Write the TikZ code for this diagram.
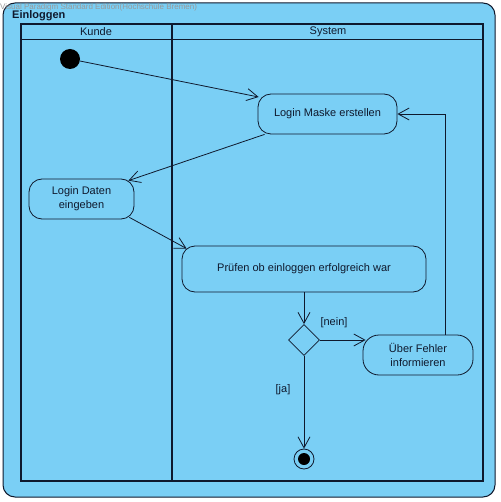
\documentclass[tikz,border=0pt]{standalone}
\usepackage{fontspec}
\setmainfont{Liberation Sans}
\usetikzlibrary{arrows.meta,shapes.geometric,calc}
\definecolor{vpblue}{RGB}{122,207,245}
\definecolor{vpline}{RGB}{15,25,45}
\begin{document}
\begin{tikzpicture}[x=1pt,y=-1pt,
  every node/.style={font=\fontsize{11}{14}\selectfont, text=vpline},
  action/.style={draw=vpline, line width=0.8pt, rounded corners=13pt, fill=vpblue, align=center, inner sep=0pt},
  flow/.style={draw=vpline, line width=0.8pt, -{Straight Barb[length=11pt,width=12pt,line width=0.8pt]}},
  lane/.style={draw=vpline, line width=1.8pt},
  guard/.style={font=\fontsize{11}{12}\selectfont}]
\useasboundingbox (0,0) rectangle (500,502);
% outer frame
\draw[fill=vpblue, draw=vpline, line width=1pt, rounded corners=12pt] (3,3) rectangle (495,497);
\node[anchor=west, text=gray!80, font=\fontsize{8}{9}\selectfont, inner sep=0pt] (wm) at (0,7) {Visual Paradigm Standard Edition(Hochschule Bremen)};
\node[anchor=west, font=\fontsize{11}{13}\bfseries, inner sep=0pt] (title) at (12,16) {Einloggen};
% swimlanes
\draw[lane] (21,24) rectangle (483,481);
\draw[lane] (21,39.5) -- (483,39.5);
\draw[lane] (172,24) -- (172,481);
\node (kunde) at (96,31.5) {Kunde};
\node (system) at (328,31.5) {System};
% nodes
\node[circle, fill=black, minimum size=20pt, inner sep=0pt] (init) at (70,59) {};
\node[action, minimum width=139pt, minimum height=40pt] (maske) at (327.5,114) {Login Maske erstellen};
\node[action, minimum width=105pt, minimum height=40pt] (daten) at (81.5,199) {Login Daten\\eingeben};
\node[action, minimum width=244pt, minimum height=46pt] (pruefen) at (304,269) {Prüfen ob einloggen erfolgreich war};
\node[diamond, draw=vpline, line width=0.8pt, fill=vpblue, minimum size=31pt, inner sep=0pt] (dec) at (304,340) {};
\node[action, rounded corners=16pt, minimum width=110pt, minimum height=40pt] (fehler) at (418,355) {Über Fehler\\informieren};
\node[circle, draw=vpline, line width=0.8pt, minimum size=20pt, inner sep=0pt] (final) at (304,459) {};
\node[circle, fill=black, minimum size=12pt, inner sep=0pt] (finalin) at (final.center) {};
% flows
\draw[flow] (init) -- ($(maske.west)+(1,-17)$);
\draw[flow] ($(maske.south west)+(7,0)$) -- ($(daten.north east)+(-6,2)$);
\draw[flow] ($(daten.south east)+(-5,-2)$) -- ($(pruefen.north west)+(5,3)$);
\draw[flow] (pruefen.south) -- (dec.north);
\draw[flow] (dec.east) -- ($(dec.east -| fehler.west)+(3,0)$);
\draw[flow] ($(fehler.north)+(27,0)$) |- (maske.east);
\draw[flow] (dec.south) -- (final.north);
% guards
\node[guard] (nein) at (334,323) {[nein]};
\node[guard] (ja) at (283,390) {[ja]};
\end{tikzpicture}
\end{document}
